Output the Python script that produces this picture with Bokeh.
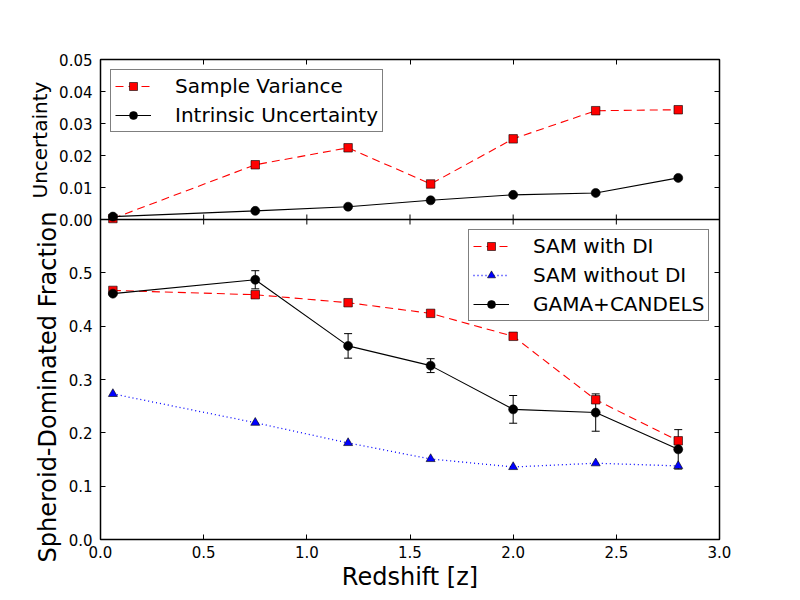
import math
from bokeh.plotting import figure
from bokeh.models import (Range1d, LinearAxis, FixedTicker, Legend, LegendItem,
                          Whisker, ColumnDataSource, TeeHead, Span, Title)
from bokeh.embed import file_html
from bokeh.resources import INLINE

# ---------------- data ----------------
z = [0.06, 0.75, 1.2, 1.6, 2.0, 2.4, 2.8]

# top panel: uncertainties
sample_variance = [0.0003, 0.0171, 0.0224, 0.0111, 0.0252, 0.0340, 0.0343]
intrinsic_unc = [0.0009, 0.0027, 0.0040, 0.0060, 0.0077, 0.0083, 0.0130]

# bottom panel: spheroid-dominated fraction
sam_with_di = [0.467, 0.459, 0.444, 0.424, 0.381, 0.262, 0.185]
sam_without_di = [0.273, 0.219, 0.181, 0.151, 0.136, 0.143, 0.138]
gama_candels = [0.461, 0.487, 0.363, 0.326, 0.244, 0.238, 0.169]
gama_err = [0.001, 0.017, 0.023, 0.013, 0.026, 0.035, 0.037]

x_ticks = [0.0, 0.5, 1.0, 1.5, 2.0, 2.5, 3.0]
x_labels = ["0.0", "0.5", "1.0", "1.5", "2.0", "2.5", "3.0"]
frac_ticks = [0.0, 0.1, 0.2, 0.3, 0.4, 0.5]
frac_labels = ["0.0", "0.1", "0.2", "0.3", "0.4", "0.5"]
unc_ticks = [0.00, 0.01, 0.02, 0.03, 0.04, 0.05]
unc_labels = ["0.00", "0.01", "0.02", "0.03", "0.04", "0.05"]

FONT = "DejaVu Sans"

# layout (pixels)
FRAME_W, FRAME_H = 619, 480
TOP, BOTTOM, LEFT, RIGHT = 59, 53, 100, 73

# stacked panels in one frame: lower 2/3 -> fraction (0..0.6), upper 1/3 -> uncertainty (0..0.05)
y_main = Range1d(0.0, 0.9)
y_unc = Range1d(-0.10, 0.05)


def unc_to_main(u):
    return y_main.start + (u - y_unc.start) / (y_unc.end - y_unc.start) * (y_main.end - y_main.start)


p = figure(frame_width=FRAME_W, frame_height=FRAME_H,
           x_range=Range1d(0.0, 3.0), y_range=y_main,
           output_backend="svg", toolbar_location=None,
           min_border_left=LEFT, min_border_top=TOP, min_border_right=RIGHT,
           min_border_bottom=BOTTOM,
           background_fill_color="white", border_fill_color="white")
p.extra_y_ranges = {"unc": y_unc}
p.grid.visible = False
p.outline_line_color = "black"
p.outline_line_width = 1.5

# ---------------- axes ----------------
left_ticks = list(frac_ticks) + [unc_to_main(u) for u in unc_ticks]
left_overrides = {t: l for t, l in zip(frac_ticks, frac_labels)}
for u, l in zip(unc_ticks, unc_labels):
    left_overrides[unc_to_main(u)] = l

x_overrides = {t: l for t, l in zip(x_ticks, x_labels)}


def style_axis(ax):
    ax.major_tick_in = 5
    ax.major_tick_out = 0
    ax.minor_tick_in = 0
    ax.minor_tick_out = 0
    ax.axis_line_color = None
    ax.major_tick_line_color = "black"
    ax.major_tick_line_width = 1
    ax.major_label_text_font = FONT
    ax.major_label_text_font_size = "15px"
    ax.major_label_text_color = "black"


yl = p.yaxis[0]
yl.ticker = FixedTicker(ticks=left_ticks)
yl.major_label_overrides = left_overrides
style_axis(yl)
yl.major_label_standoff = 8

xb = p.xaxis[0]
xb.ticker = FixedTicker(ticks=x_ticks)
xb.major_label_overrides = x_overrides
style_axis(xb)
xb.major_label_standoff = 6
xb.axis_label = "Redshift [z]"
xb.axis_label_text_font = FONT
xb.axis_label_text_font_size = "24px"
xb.axis_label_text_font_style = "normal"
xb.axis_label_text_color = "black"
xb.axis_label_standoff = 2

yr = LinearAxis(ticker=FixedTicker(ticks=left_ticks))
style_axis(yr)
yr.major_label_text_color = None
yr.major_label_text_alpha = 0
p.add_layout(yr, "right")

xt = LinearAxis(ticker=FixedTicker(ticks=x_ticks))
style_axis(xt)
xt.major_label_text_color = None
xt.major_label_text_alpha = 0
p.add_layout(xt, "above")

# separator between panels + its inward ticks
p.add_layout(Span(location=unc_ticks[0], dimension="width", y_range_name="unc",
                  line_color="black", line_width=1.5))
p.scatter(x=x_ticks[1:-1], y=[unc_ticks[0]] * (len(x_ticks) - 2), y_range_name="unc",
          marker="dash", angle=math.pi / 2, size=10, line_color="black", line_width=1)

# ---------------- top panel ----------------
sv_line = p.line(z, sample_variance, y_range_name="unc", line_color="red",
                 line_dash="8 5", line_width=1.1)
sv_pts = p.scatter(z, sample_variance, y_range_name="unc", marker="square", size=8.5,
                   fill_color="red", line_color="black", line_width=0.6)
in_line = p.line(z, intrinsic_unc, y_range_name="unc", line_color="black", line_width=1.1)
in_pts = p.scatter(z, intrinsic_unc, y_range_name="unc", marker="circle", size=9,
                   fill_color="black", line_color="black", line_width=0.6)

# ---------------- bottom panel ----------------
di_line = p.line(z, sam_with_di, line_color="red", line_dash="8 5", line_width=1.1)
di_pts = p.scatter(z, sam_with_di, marker="square", size=8.5,
                   fill_color="red", line_color="black", line_width=0.6)
nd_line = p.line(z, sam_without_di, line_color="blue", line_dash="1 3", line_width=1.3)
nd_pts = p.scatter(z, sam_without_di, marker="triangle", size=9,
                   fill_color="blue", line_color="black", line_width=0.6)

err_src = ColumnDataSource(data=dict(
    x=z,
    upper=[g + e for g, e in zip(gama_candels, gama_err)],
    lower=[g - e for g, e in zip(gama_candels, gama_err)],
))
p.add_layout(Whisker(source=err_src, base="x", upper="upper", lower="lower",
                     dimension="height", line_color="black", line_width=1,
                     upper_head=TeeHead(size=8, line_color="black", line_width=1),
                     lower_head=TeeHead(size=8, line_color="black", line_width=1)))
gc_line = p.line(z, gama_candels, line_color="black", line_width=1.1)
gc_pts = p.scatter(z, gama_candels, marker="circle", size=9,
                   fill_color="black", line_color="black", line_width=0.6)


# ---------------- legends ----------------
def style_legend(lg):
    lg.label_text_font = FONT
    lg.label_text_font_size = "20px"
    lg.label_text_color = "black"
    lg.glyph_width = 36
    lg.glyph_height = 20
    lg.label_standoff = 24
    lg.label_height = 20
    lg.padding = 4
    lg.spacing = 5
    lg.margin = 10
    lg.border_line_color = "black"
    lg.border_line_width = 1
    lg.background_fill_color = "white"
    lg.background_fill_alpha = 1.0


leg_top = Legend(items=[
    LegendItem(label="Sample Variance", renderers=[sv_line, sv_pts]),
    LegendItem(label="Intrinsic Uncertainty", renderers=[in_line, in_pts]),
], location="top_left")
style_legend(leg_top)
p.add_layout(leg_top)

leg_bot = Legend(items=[
    LegendItem(label="SAM with DI", renderers=[di_line, di_pts]),
    LegendItem(label="SAM without DI", renderers=[nd_line, nd_pts]),
    LegendItem(label="GAMA+CANDELS", renderers=[gc_line, gc_pts]),
], location=(368, 218))
style_legend(leg_bot)
p.add_layout(leg_bot)

# ---------------- y titles, one per panel (side panels; text starts offset px above frame bottom) ----------------
p.add_layout(Title(text="Spheroid-Dominated Fraction", align="left", offset=-23,
                   standoff=-11, text_font=FONT, text_font_size="24px",
                   text_font_style="normal", text_color="black"), "left")
p.add_layout(Title(text="Uncertainty", align="left", offset=341,
                   standoff=-28, text_font=FONT, text_font_size="20px",
                   text_font_style="normal", text_color="black"), "left")

open("out.html", "w").write(file_html(p, INLINE))
